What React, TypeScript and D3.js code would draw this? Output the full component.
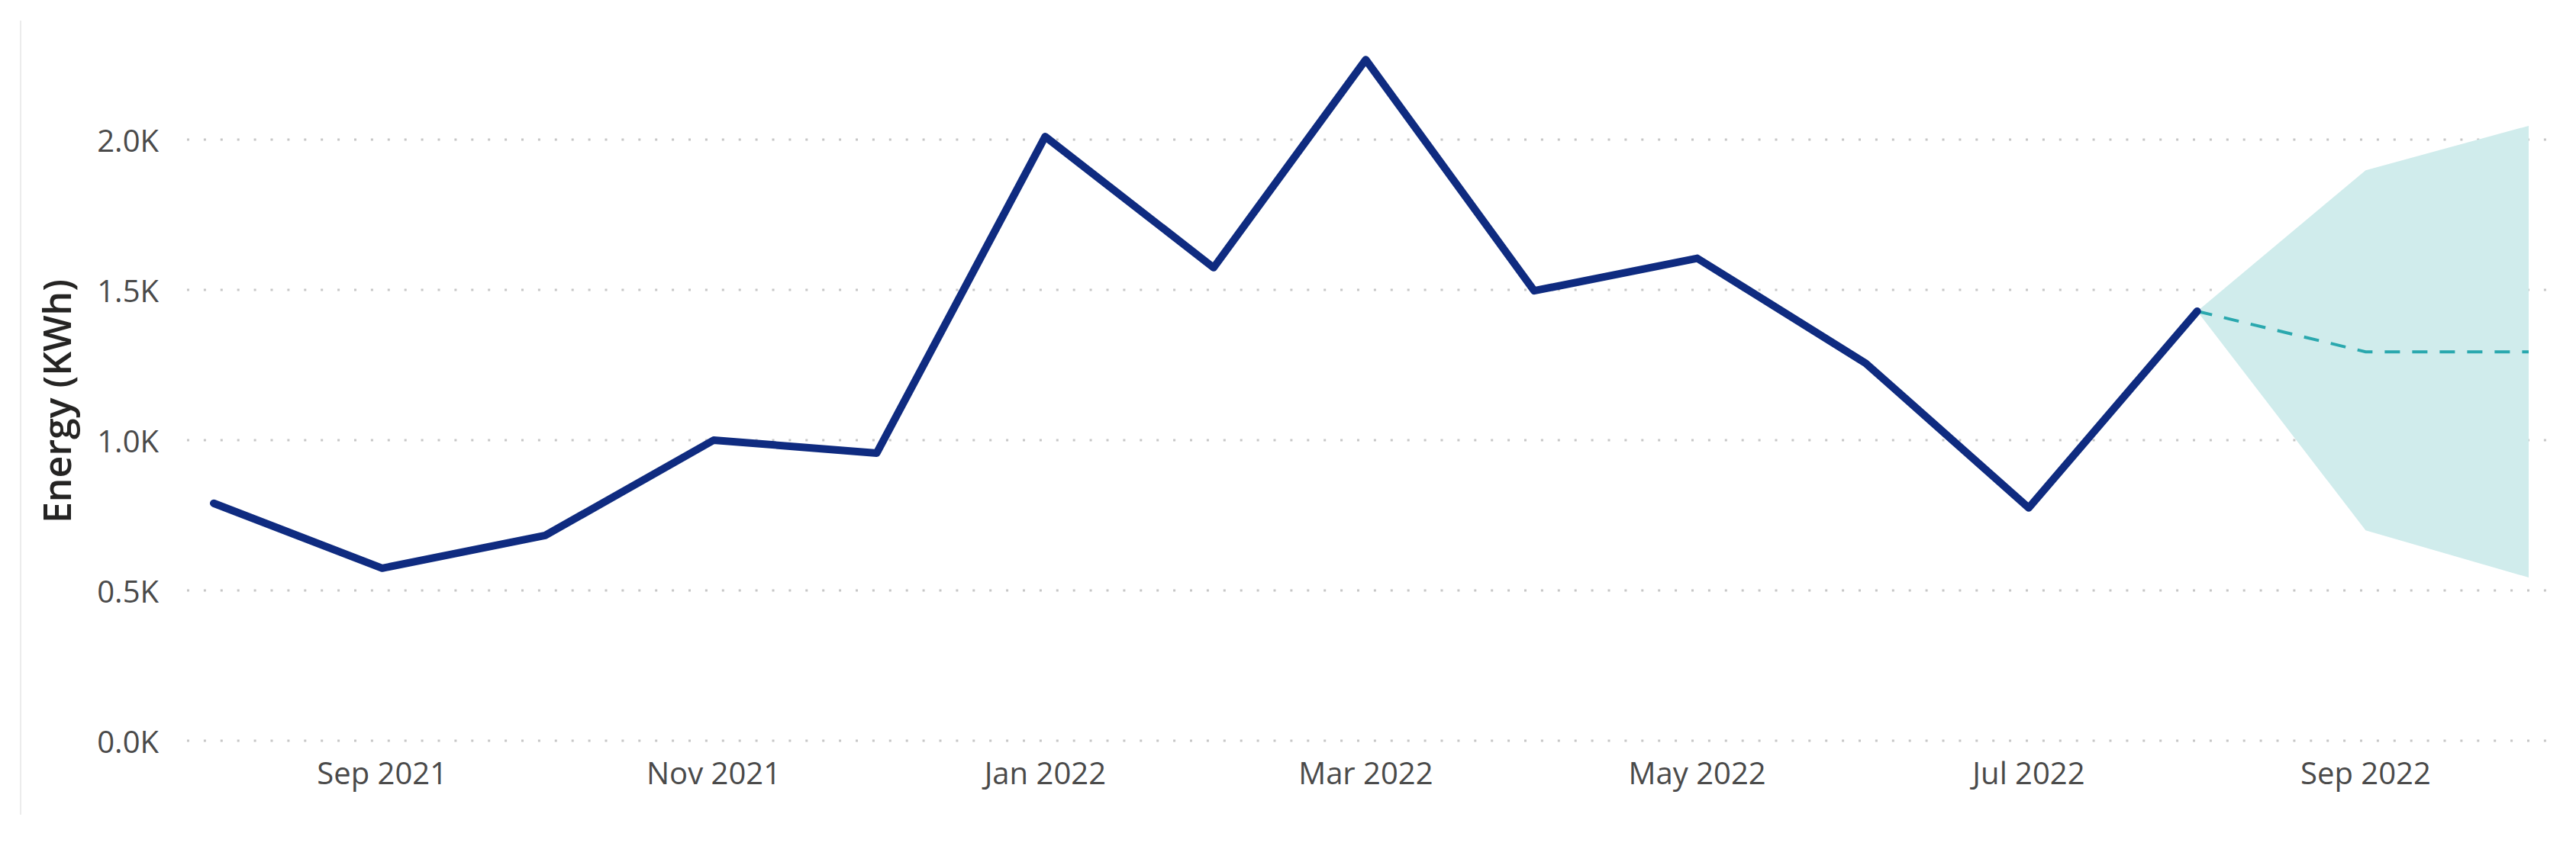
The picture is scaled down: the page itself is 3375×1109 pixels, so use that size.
import React from "react";
import * as d3 from "d3";

const actualMonths = [
  "2021-08-01", "2021-09-01", "2021-10-01", "2021-11-01", "2021-12-01",
  "2022-01-01", "2022-02-01", "2022-03-01", "2022-04-01", "2022-05-01",
  "2022-06-01", "2022-07-01", "2022-08-01",
];
const actualValues = [790, 574, 683, 1000, 957, 2010, 1574, 2266, 1497, 1605, 1256, 775, 1429];

const forecastMonths = ["2022-08-01", "2022-09-01", "2022-10-01"];
const forecastValues = [1429, 1294, 1294];
const forecastUpper = [1429, 1898, 2046];
const forecastLower = [1429, 700, 543];

const yTicks = [0, 500, 1000, 1500, 2000];
const xTickMonths = ["2021-09-01", "2021-11-01", "2022-01-01", "2022-03-01", "2022-05-01", "2022-07-01", "2022-09-01"];

const yAxisTitle = "Energy (KWh)";

const W = 3375;
const H = 1109;

const parse = d3.timeParse("%Y-%m-%d");

export default function App() {
  const x = d3
    .scaleTime()
    .domain([parse("2021-08-01")!, parse("2022-10-01")!])
    .range([280, 3313]);
  const y = d3.scaleLinear().domain([0, 2000]).range([971, 183]);

  const actual = actualMonths.map((m, i) => ({ d: parse(m)!, v: actualValues[i] }));
  const fc = forecastMonths.map((m, i) => ({
    d: parse(m)!,
    v: forecastValues[i],
    hi: forecastUpper[i],
    lo: forecastLower[i],
  }));

  const lineGen = d3
    .line<{ d: Date; v: number }>()
    .x((p) => x(p.d))
    .y((p) => y(p.v));
  const areaGen = d3
    .area<{ d: Date; hi: number; lo: number }>()
    .x((p) => x(p.d))
    .y0((p) => y(p.lo))
    .y1((p) => y(p.hi));

  const fmtMonth = d3.timeFormat("%b %Y");
  const fmtY = (v: number) => (v / 1000).toFixed(1) + "K";
  const font = "'Segoe UI', 'Open Sans', sans-serif";

  return (
    <svg
      width={W}
      height={H}
      style={{ position: "absolute", left: 0, top: 0, background: "#fff" }}
    >
      <rect x={0} y={0} width={W} height={H} fill="#ffffff" />
      <line x1={27} x2={27} y1={27} y2={1068} stroke="#ececec" strokeWidth={2} />

      {yTicks.map((t) => (
        <g key={t}>
          <line
            x1={245}
            x2={3346}
            y1={y(t)}
            y2={y(t)}
            stroke="#c6c6c6"
            strokeWidth={3}
            strokeDasharray="3 18.9"
          />
          <text
            x={208}
            y={y(t)}
            textAnchor="end"
            dominantBaseline="central"
            fontFamily={font}
            fontSize={40}
            fill="#4a4a4a"
          >
            {fmtY(t)}
          </text>
        </g>
      ))}

      {xTickMonths.map((m) => (
        <text
          key={m}
          x={x(parse(m)!)}
          y={1028}
          textAnchor="middle"
          fontFamily={font}
          fontSize={40}
          fill="#4a4a4a"
        >
          {fmtMonth(parse(m)!)}
        </text>
      ))}

      <text
        transform={`translate(93, 526) rotate(-90)`}
        textAnchor="middle"
        fontFamily={font}
        fontSize={50}
        fontWeight={600}
        fill="#252423"
      >
        {yAxisTitle}
      </text>

      <path d={areaGen(fc) || ""} fill="#d0ecec" />
      <path
        d={lineGen(fc) || ""}
        fill="none"
        stroke="#2aa8ae"
        strokeWidth={4}
        strokeDasharray="20 16"
      />
      <path
        d={lineGen(actual) || ""}
        fill="none"
        stroke="#0f2b80"
        strokeWidth={10}
        strokeLinejoin="round"
        strokeLinecap="round"
      />
    </svg>
  );
}
